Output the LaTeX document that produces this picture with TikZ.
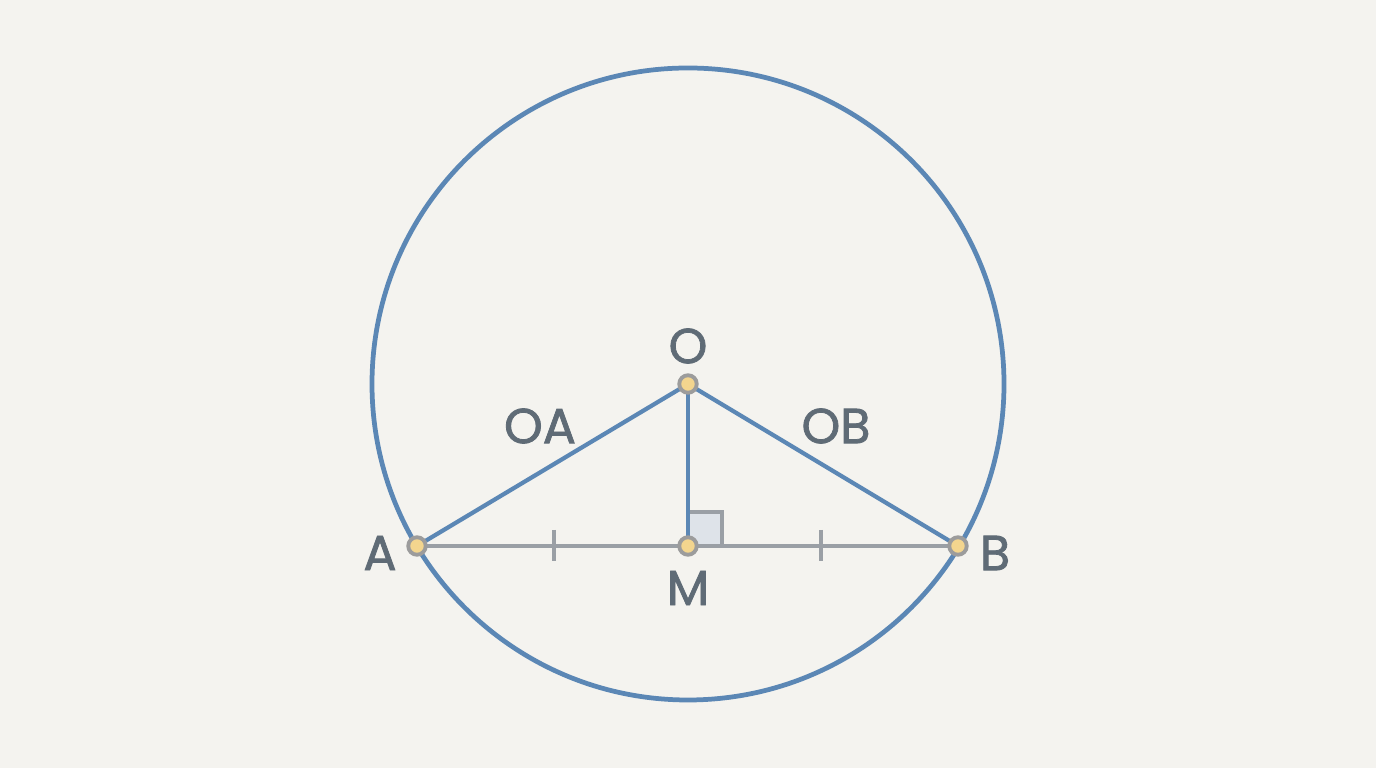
\documentclass[tikz,border=0pt]{standalone}
\usepackage{fontspec}
\setmainfont{Poppins}
\newfontfamily\lblfont{Poppins}[FakeBold=1.6]
\definecolor{bgcol}{HTML}{F4F3EF}
\definecolor{circcol}{HTML}{5B87B5}
\definecolor{chordcol}{HTML}{9A9FA5}
\definecolor{dotcol}{HTML}{F3D58E}
\definecolor{dotrim}{HTML}{9C9C9C}
\definecolor{txtcol}{HTML}{5F6B76}
\definecolor{sqcol}{HTML}{DEE3E9}
\tikzset{pt/.style={circle,inner sep=0pt,minimum size=0.175cm,draw=dotrim,line width=1.1pt,fill=dotcol}}
\begin{document}
\begin{tikzpicture}[x=0.01cm,y=-0.01cm]
  \fill[bgcol] (0,0) rectangle (1376,768);
  \useasboundingbox (0,0) rectangle (1376,768);
  \draw[circcol,line width=1.35pt] (688,384) circle [radius=316];
  % right angle mark
  \draw[chordcol,fill=sqcol,line width=1pt] (688,512) rectangle (722,546);
  \coordinate (O) at (688,384);
  \coordinate (A) at (417,546);
  \coordinate (B) at (958,546);
  \coordinate (M) at (688,546);
  \coordinate (t1) at (554,530);
  \coordinate (t2) at (554,561);
  \coordinate (t3) at (821,530);
  \coordinate (t4) at (821,561);
  \begin{scope}[every path/.style={draw,line width=1pt,chordcol}]
    \path (A) -- (M);
    \path (M) -- (B);
    \path (t1) -- (t2);
    \path (t3) -- (t4);
  \end{scope}
  \begin{scope}[every path/.style={draw,line width=1.2pt,circcol}]
    \path (O) -- (A);
    \path (O) -- (B);
    \path (O) -- (M);
  \end{scope}
  % points
  \node[pt] (pO) at (O) {};
  \node[pt] (pA) at (A) {};
  \node[pt] (pB) at (B) {};
  \node[pt] (pM) at (M) {};
  \begin{scope}[every node/.style={text=txtcol,font=\lblfont\fontsize{14}{16}\selectfont}]
    \node (lO) at (688,346) {O};
    \node (lA) at (380,553) {A};
    \node (lB) at (995,553) {B};
    \node (lM) at (688,588) {M};
    \node (lOA) at (540,426) {OA};
    \node (lOB) at (836,426) {OB};
  \end{scope}
\end{tikzpicture}
\end{document}
